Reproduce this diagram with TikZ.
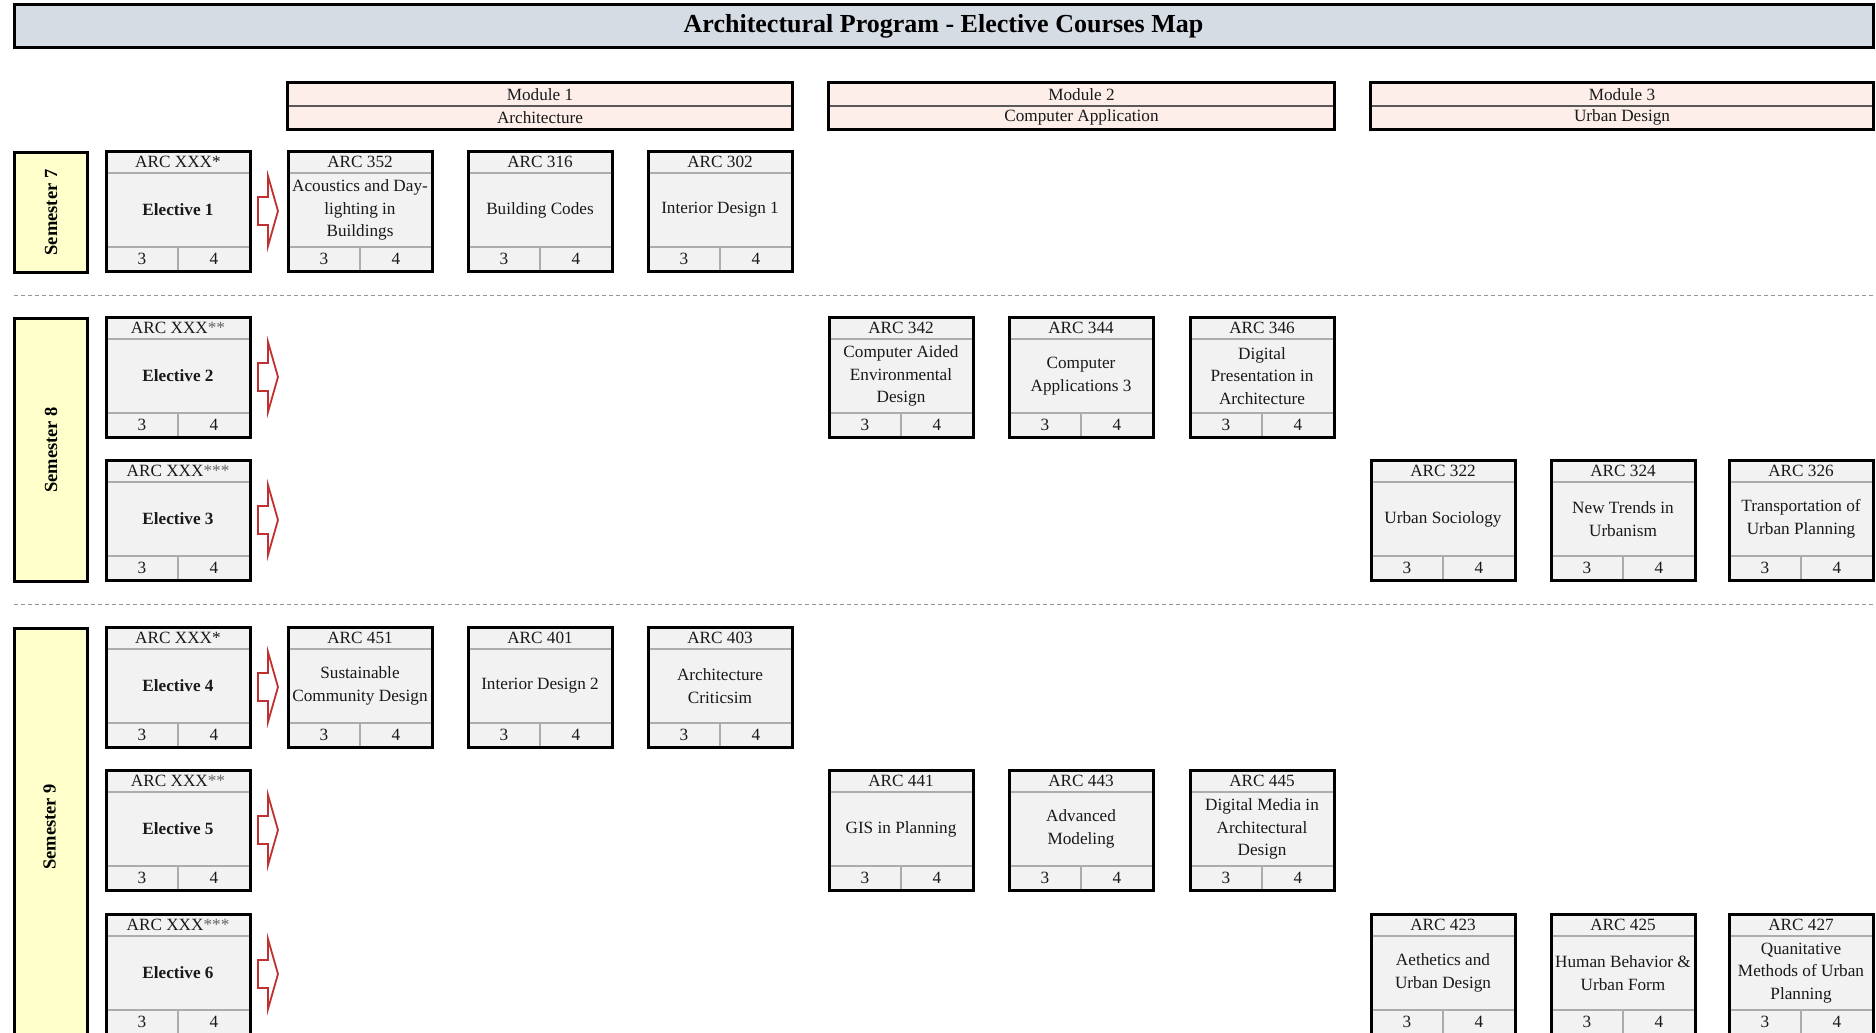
\documentclass[tikz,border=0pt]{standalone}
\usepackage{fontspec}
\setmainfont{Liberation Serif}
\usetikzlibrary{calc}
\definecolor{titlefill}{RGB}{214,220,228}
\definecolor{modfill}{RGB}{253,238,234}
\definecolor{semfill}{RGB}{255,255,204}
\definecolor{boxfill}{RGB}{242,242,242}
\definecolor{arrowred}{RGB}{192,48,48}
\definecolor{sepgray}{RGB}{172,172,172}
\definecolor{dashgray}{RGB}{150,150,150}
\newcommand\bodyfont{\fontsize{17.2}{22.5}\selectfont}
\newcommand\lightast[1]{\textcolor{black!60}{#1}}
\tikzset{
  txt/.style={inner sep=0pt, font=\bodyfont, align=center, text=black!90},
  boxbg/.style={fill=boxfill, inner sep=0pt, minimum width=144pt, minimum height=120pt, anchor=north west},
  border/.style={draw=black, line width=3pt},
  sepline/.style={draw=sepgray, line width=1.8pt},
  modbg/.style={fill=modfill, inner sep=0pt, minimum height=46pt},
  semnode/.style={fill=semfill, draw=black, line width=3pt, inner sep=0pt, minimum width=73pt, anchor=north west},
  semtxt/.style={inner sep=0pt, rotate=90, font=\bfseries\fontsize{18.5}{22}\selectfont},
  blockarrow/.style={draw=arrowred, line width=1.8pt, fill=white, line join=miter},
  dashline/.style={draw=dashgray, line width=1pt, dash pattern=on 4pt off 3pt}
}
% name, x, y, code, body
\newcommand\cbox[5]{%
  \node[boxbg] (#1) at (#2,#3) {};
  \draw[sepline] (#2,#3+22) -- ++(144,0);
  \draw[sepline] (#2,#3+96) -- ++(144,0);
  \draw[sepline] (#2+72,#3+96) -- ++(0,24);
  \draw[border] (#1.north west) rectangle (#1.south east);
  \node[txt] (#1-code) at (#2+72,#3+11) {#4};
  \node[txt] (#1-body) at (#2+72,#3+59) {#5};
  \node[txt] (#1-cr) at (#2+36,#3+108) {3};
  \node[txt] (#1-hr) at (#2+108,#3+108) {4};
}
% name, center y
\newcommand\rarrow[2]{%
  \draw[blockarrow] (258,#2-14) coordinate (#1) -- (268,#2-14) -- (268,#2-35) -- (278,#2) -- (268,#2+35) -- (268,#2+14) -- (258,#2+14) -- cycle;
}
% name, x1, x2, line1, line2
\newcommand\modhead[5]{%
  \node[modbg, minimum width=#3-#2] (#1) at ({(#2+#3)/2},106) {};
  \draw[draw=black!65, line width=1.3pt] (#1.west) -- (#1.east);
  \draw[border] (#1.north west) rectangle (#1.south east);
  \node[txt] (#1-a) at ({(#2+#3)/2},94.5) {#4};
  \node[txt] (#1-b) at ({(#2+#3)/2},117.5) {#5};
}
\begin{document}
\begin{tikzpicture}[x=1pt,y=-1pt]
\useasboundingbox (0,0) rectangle (1876,1033);
\clip (0,0) rectangle (1876,1033);

% title
\node[fill=titlefill, draw=black, line width=3pt, inner sep=0pt, minimum width=1859pt, minimum height=43pt,
      font=\bfseries\fontsize{26}{30}\selectfont] (title) at (943.5,26.5) {Architectural Program - Elective Courses Map};

% modules
\modhead{mod1}{288}{792}{Module 1}{Architecture}
\modhead{mod2}{829}{1334}{Module 2}{Computer Application}
\modhead{mod3}{1371}{1873}{Module 3}{Urban Design}

% semesters
\node[semnode, minimum height=120pt] (sem7) at (13,151) {};
\node[semtxt] (sem7-t) at (sem7.center) {Semester 7};
\node[semnode, minimum height=263pt] (sem8) at (13,317) {};
\node[semtxt] (sem8-t) at (sem8.center) {Semester 8};
\node[semnode, minimum height=410pt] (sem9) at (13,627) {};
\node[semtxt] (sem9-t) at (13+36.5,827) {Semester 9};

% dashed separators
\coordinate (d1a) at (14,295); \coordinate (d1b) at (1873,295);
\coordinate (d2a) at (14,604); \coordinate (d2b) at (1873,604);
\draw[dashline] (d1a) -- (d1b);
\draw[dashline] (d2a) -- (d2b);

% row 1 (semester 7)
\cbox{e1}{106}{151}{ARC XXX*}{\textbf{Elective 1}}
\rarrow{a1}{211}
\cbox{c352}{288}{151}{ARC 352}{Acoustics and Day-\\lighting in\\Buildings}
\cbox{c316}{468}{151}{ARC 316}{Building Codes}
\cbox{c302}{648}{151}{ARC 302}{Interior Design 1}

% row 2 (semester 8)
\cbox{e2}{106}{317}{ARC XXX\lightast{**}}{\textbf{Elective 2}}
\rarrow{a2}{377}
\cbox{c342}{829}{317}{ARC 342}{Computer Aided\\Environmental\\Design}
\cbox{c344}{1009}{317}{ARC 344}{Computer\\Applications 3}
\cbox{c346}{1190}{317}{ARC 346}{Digital\\Presentation in\\Architecture}

% row 3 (semester 8)
\cbox{e3}{106}{460}{ARC XXX\lightast{***}}{\textbf{Elective 3}}
\rarrow{a3}{520}
\cbox{c322}{1371}{460}{ARC 322}{Urban Sociology}
\cbox{c324}{1551}{460}{ARC 324}{New Trends in\\Urbanism}
\cbox{c326}{1729}{460}{ARC 326}{Transportation of\\Urban Planning}

% row 4 (semester 9)
\cbox{e4}{106}{627}{ARC XXX*}{\textbf{Elective 4}}
\rarrow{a4}{687}
\cbox{c451}{288}{627}{ARC 451}{Sustainable\\Community Design}
\cbox{c401}{468}{627}{ARC 401}{Interior Design 2}
\cbox{c403}{648}{627}{ARC 403}{Architecture\\Criticsim}

% row 5 (semester 9)
\cbox{e5}{106}{770}{ARC XXX\lightast{**}}{\textbf{Elective 5}}
\rarrow{a5}{830}
\cbox{c441}{829}{770}{ARC 441}{GIS in Planning}
\cbox{c443}{1009}{770}{ARC 443}{Advanced\\Modeling}
\cbox{c445}{1190}{770}{ARC 445}{Digital Media in\\Architectural\\Design}

% row 6 (semester 9)
\cbox{e6}{106}{914}{ARC XXX\lightast{***}}{\textbf{Elective 6}}
\rarrow{a6}{974}
\cbox{c423}{1371}{914}{ARC 423}{Aethetics and\\Urban Design}
\cbox{c425}{1551}{914}{ARC 425}{Human Behavior \&\\Urban Form}
\cbox{c427}{1729}{914}{ARC 427}{Quanitative\\Methods of Urban\\Planning}
\end{tikzpicture}
\end{document}
